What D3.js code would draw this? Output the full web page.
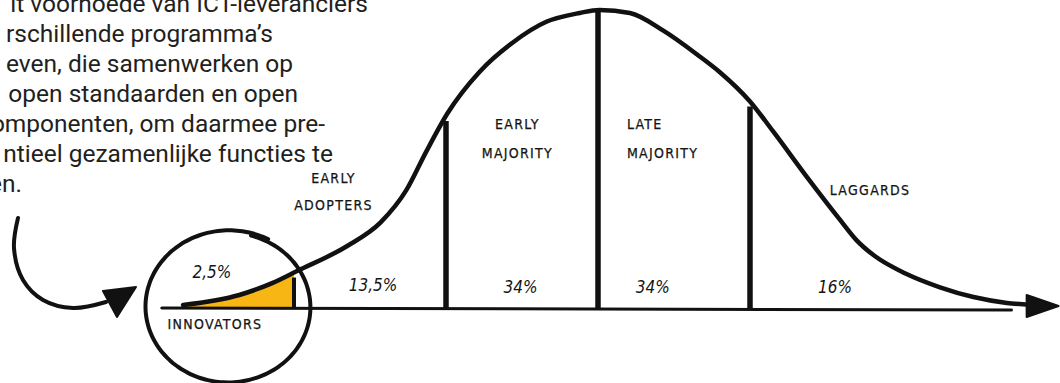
<!DOCTYPE html>
<html>
<head>
<meta charset="utf-8">
<script src="https://cdn.jsdelivr.net/npm/d3@7"></script>
<style>
  html, body { margin: 0; padding: 0; background: #fff; }
  svg { display: block; }
  .para { font-family: Roboto, "Noto Sans", sans-serif; font-size: 24.5px; fill: #231f20; }
  .hand { font-family: "DejaVu Sans Condensed", "DejaVu Sans", sans-serif; font-size: 14px; letter-spacing: 1.3px; fill: #151515; stroke: #151515; stroke-width: 0.25px; }
  .pct { font-family: "DejaVu Sans Condensed", "DejaVu Sans", sans-serif; font-size: 17px; font-style: oblique; fill: #151515; }
</style>
</head>
<body>
<svg id="chart" width="1060" height="383"></svg>
<script>
// adoption curve (x in standard deviations, y relative height)
const curveX = [-2.73, -2.36, -2.14, -1.98, -1.65, -1.43, -1.26, -1.13, -0.99, -0.78, -0.56, -0.34, -0.12, 0.01, 0.21, 0.43, 0.65, 0.80, 1.00, 1.15, 1.38, 1.59, 1.70, 1.81, 2.03, 2.25, 2.47, 2.69, 2.85];
const curveY = [0.00, 0.034, 0.075, 0.115, 0.20, 0.28, 0.39, 0.52, 0.65, 0.79, 0.89, 0.96, 0.99, 1.00, 0.99, 0.93, 0.85, 0.79, 0.69, 0.59, 0.43, 0.29, 0.22, 0.17, 0.105, 0.06, 0.027, 0.007, 0.0];

// segment boundaries (sd) and labels
const boundaries = [-2, -1, 0, 1];
const segments = [['INNOVATORS'], ['EARLY', 'ADOPTERS'], ['EARLY', 'MAJORITY'], ['LATE', 'MAJORITY'], ['LAGGARDS']];
const shares = ['2,5%', '13,5%', '34%', '34%', '16%'];

const paragraph = [
  'it voorhoede van ICT-leveranciers',
  'rschillende programma\u2019s',
  'even, die samenwerken op',
  'open standaarden en open',
  'omponenten, om daarmee pre-',
  'ntieel gezamenlijke functies te',
  'en.'
];

const svg = d3.select('#chart');
const x = d3.scaleLinear().domain([-3, 3]).range([142, 1054]);
const y = d3.scaleLinear().domain([0, 1]).range([305, 10]);

const pts = curveX.map((v, i) => [v, curveY[i]]);
const valueAt = s => {
  for (let i = 0; i < pts.length - 1; i++) {
    if (s >= pts[i][0] && s <= pts[i + 1][0]) {
      const t = (s - pts[i][0]) / (pts[i + 1][0] - pts[i][0]);
      return pts[i][1] + t * (pts[i + 1][1] - pts[i][1]);
    }
  }
  return 0;
};
const smooth = d3.curveMonotoneX;

// paragraph, cut off at the left and top edge
const pRight = [368, 273, 293, 298, 325, 333, 22];
svg.append('g').selectAll('text')
  .data(paragraph)
  .join('text')
  .attr('class', 'para')
  .attr('x', (d, i) => pRight[i])
  .attr('y', (d, i) => 12 + i * 30)
  .attr('text-anchor', 'end')
  .text(d => d);

// innovators fill
const innov = pts.filter(p => p[0] < -2).concat([[-2, valueAt(-2)]]);
svg.append('path')
  .datum(innov)
  .attr('d', d3.area().x(d => x(d[0])).y0(y(0) + 3).y1(d => y(d[1])).curve(smooth))
  .attr('fill', '#f7b614');

// baseline
svg.append('line')
  .attr('x1', x(-2.87)).attr('x2', x(2.72))
  .attr('y1', y(0) + 3).attr('y2', y(0) + 5)
  .attr('stroke', '#111').attr('stroke-width', 3).attr('stroke-linecap', 'round');

// boundaries
svg.append('g').selectAll('line')
  .data(boundaries)
  .join('line')
  .attr('x1', d => x(d)).attr('x2', d => x(d))
  .attr('y1', y(0) + 3)
  .attr('y2', d => y(valueAt(d)) + (d === 0 ? 0 : 5))
  .attr('stroke', '#111').attr('stroke-width', d => d === -2 ? 4 : 5.5);

// curve
svg.append('path')
  .datum(pts)
  .attr('d', d3.line().x(d => x(d[0])).y(d => y(d[1])).curve(smooth))
  .attr('fill', 'none').attr('stroke', '#111').attr('stroke-width', 4.5).attr('stroke-linecap', 'round');

// arrow head at the right
svg.append('path')
  .attr('d', d3.line()([[x(2.82), y(0) - 10], [x(3.03), y(0) + 1], [x(2.82), y(0) + 12]]) + 'Z')
  .attr('fill', '#111').attr('stroke', '#111').attr('stroke-width', 2).attr('stroke-linejoin', 'round');

// magnifier circle, drawn as one stroke that slightly overlaps at the top
const cx = x(-2.43), cy = y(0) + 2, rx = 82, ry = 75;
const spiral = d3.range(0, 1.0001, 0.01).map(t => {
  const a = (-74 + t * 372) * Math.PI / 180;
  const k = 0.99 + t * 0.035;
  return [cx + rx * k * Math.cos(a), cy + ry * k * Math.sin(a)];
});
svg.append('path')
  .attr('d', d3.line().curve(d3.curveCardinal)(spiral))
  .attr('fill', 'none').attr('stroke', '#111').attr('stroke-width', 4).attr('stroke-linecap', 'round');

// curved pointer arrow on the left
const pointer = [[18, 218], [14, 248], [23, 280], [43, 300], [73, 308], [106, 302]];
svg.append('path')
  .attr('d', d3.line().curve(d3.curveCatmullRom)(pointer))
  .attr('fill', 'none').attr('stroke', '#111').attr('stroke-width', 4).attr('stroke-linecap', 'round');
svg.append('path')
  .attr('d', d3.line()([[103, 291], [136, 287], [117, 317]]) + 'Z')
  .attr('fill', '#111').attr('stroke', '#111').attr('stroke-width', 2).attr('stroke-linejoin', 'round');

// segment labels
const labelPos = [
  { s: -2.52, y: 329, anchor: 'middle' },
  { s: -1.74, y: 183, anchor: 'middle' },
  { s: -0.53, y: 129, anchor: 'middle' },
  { s: 0.19, y: 129, anchor: 'start' },
  { s: 1.79, y: 195, anchor: 'middle' }
];
segments.forEach((lines, i) => {
  const p = labelPos[i];
  const t = svg.append('text')
    .attr('class', 'hand')
    .attr('text-anchor', p.anchor);
  lines.forEach((l, j) => {
    t.append('tspan')
      .attr('x', x(p.s))
      .attr('y', p.y + j * (i === 1 ? 27 : 29))
      .text(l);
  });
});

const pctPos = [
  { s: -2.54, y: 278 },
  { s: -1.48, y: 291 },
  { s: -0.51, y: 293 },
  { s: 0.36, y: 293 },
  { s: 1.56, y: 293 }
];
svg.append('g').selectAll('text')
  .data(shares)
  .join('text')
  .attr('class', 'pct')
  .attr('x', (d, i) => x(pctPos[i].s))
  .attr('y', (d, i) => pctPos[i].y)
  .attr('text-anchor', 'middle')
  .text(d => d);
</script>
</body>
</html>
